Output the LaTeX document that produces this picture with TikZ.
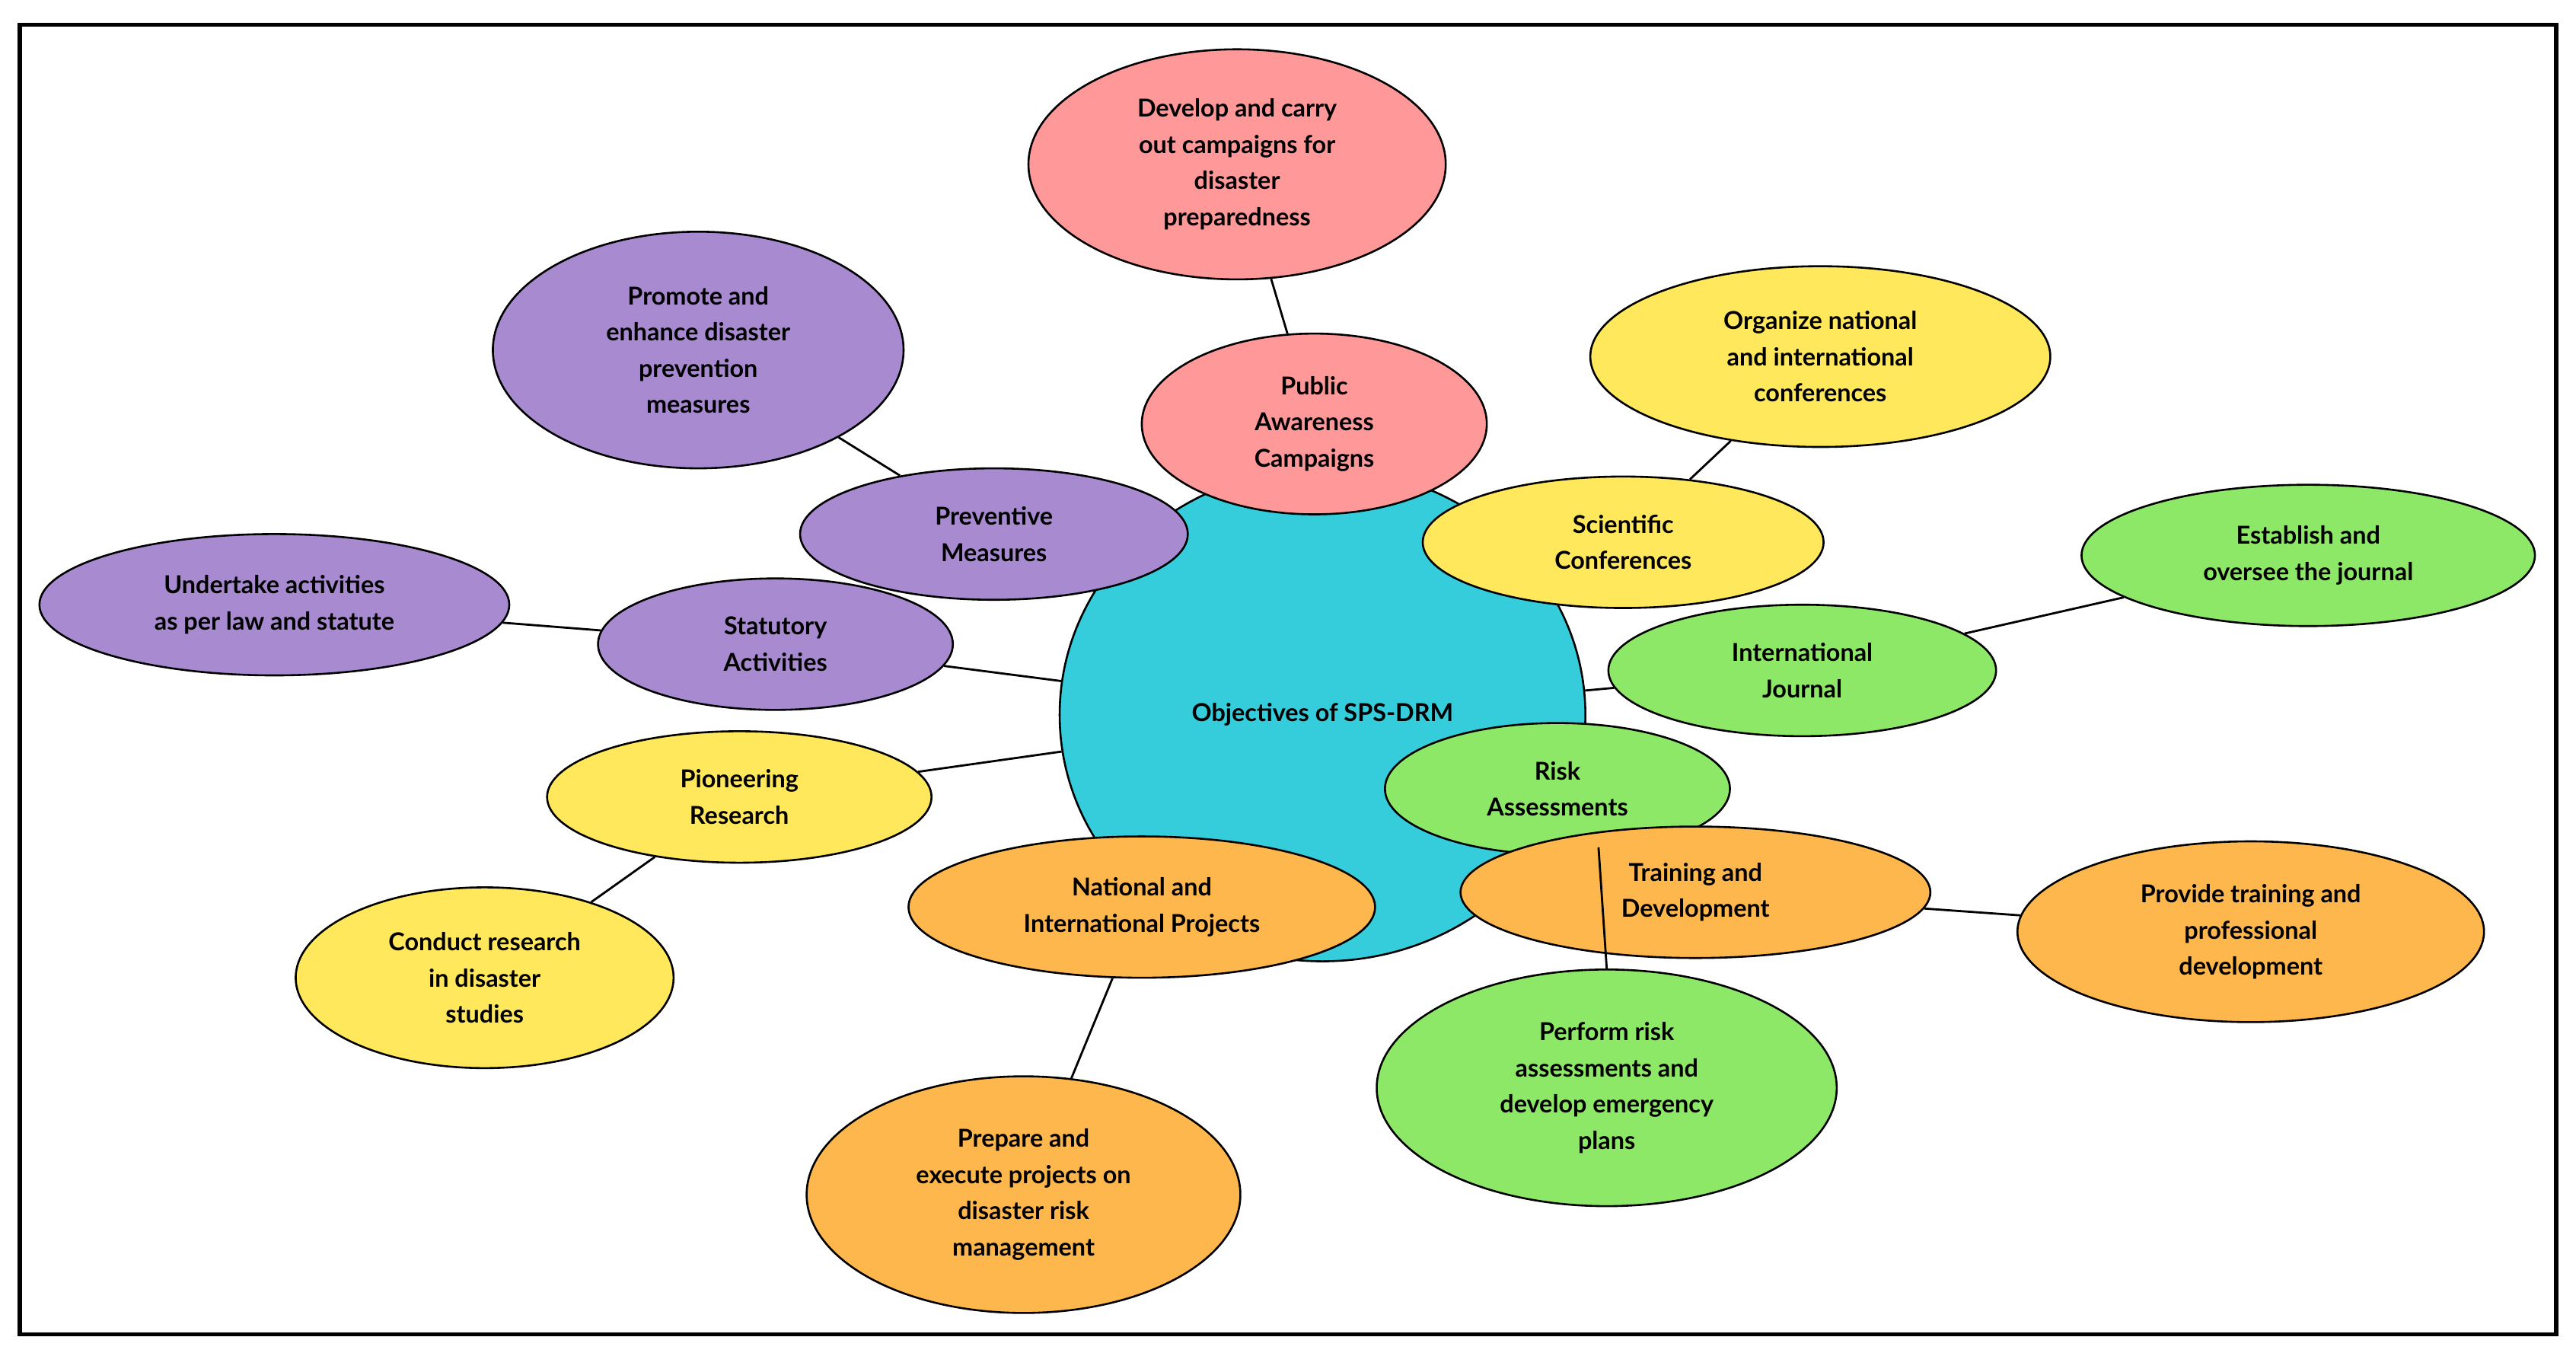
\documentclass[tikz,border=0pt]{standalone}
\usepackage{fontspec}
\setmainfont{Lato}
\usetikzlibrary{shapes.geometric}
\definecolor{cy}{HTML}{35CCDB}
\definecolor{pk}{HTML}{FF9999}
\definecolor{pu}{HTML}{A88AD0}
\definecolor{ye}{HTML}{FFE85C}
\definecolor{orr}{HTML}{FDB74D}
\definecolor{gr}{HTML}{8EE868}
\tikzset{
 b/.style n args={3}{ellipse,draw=black,line width=1.2pt,fill=#1,minimum width=#2pt,minimum height=#3pt,inner sep=0pt,align=center,font=\fontsize{15}{22}\selectfont\bfseries},
 c/.style={line width=1.3pt,black}
}
\begin{document}
\begin{tikzpicture}[x=1pt,y=-1pt]
\useasboundingbox (0,0) rectangle (1568,823);
\fill[white] (0,0) rectangle (1568,823);
\draw[line width=2.5pt] (12,15) rectangle (1556,812);
\node[b={cy}{320}{300}] (c) at (805,435) {Objectives of SPS-DRM};
\node[b={pk}{254}{140}] (dev) at (753,100) {Develop and carry\\out campaigns for\\disaster\\preparedness};
\node[b={pk}{210}{110}] (pub) at (800,258) {Public\\Awareness\\Campaigns};
\node[b={pu}{250}{144}] (pro) at (425,213) {Promote and\\enhance disaster\\prevention\\measures};
\node[b={pu}{236}{80}] (prev) at (605,325) {Preventive\\Measures};
\node[b={pu}{286}{86}] (und) at (167,368) {Undertake activities\\as per law and statute};
\node[b={pu}{216}{80}] (stat) at (472,392) {Statutory\\Activities};
\node[b={ye}{234}{80}] (pio) at (450,485) {Pioneering\\Research};
\node[b={ye}{230}{110}] (con) at (295,595) {Conduct research\\in disaster\\studies};
\node[b={orr}{264}{144}] (prep) at (623,727) {Prepare and\\execute projects on\\disaster risk\\management};
\node[b={orr}{284}{86}] (nat) at (695,552) {National and\\International Projects};
\node[b={ye}{280}{110}] (org) at (1108,217) {Organize national\\and international\\conferences};
\node[b={ye}{244}{80}] (sci) at (988,330) {Scientific\\Conferences};
\node[b={gr}{276}{86}] (est) at (1405,338) {Establish and\\oversee the journal};
\node[b={gr}{236}{80}] (int) at (1097,408) {International\\Journal};
\node[b={gr}{210}{80}] (risk) at (948,480) {Risk\\Assessments};
\node[b={gr}{280}{144}] (perf) at (978,662) {Perform risk\\assessments and\\develop emergency\\plans};
\node[b={orr}{286}{80}] (tr) at (1032,543) {Training and\\Development};
\node[b={orr}{284}{110}] (prov) at (1370,567) {Provide training and\\professional\\development};
\draw[c] (dev) -- (pub);
\draw[c] (pro) -- (prev);
\draw[c] (und) -- (stat);
\draw[c] (stat) -- (c);
\draw[c] (pio) -- (c);
\draw[c] (con) -- (pio);
\draw[c] (prep) -- (nat);
\draw[c] (org) -- (sci);
\draw[c] (est) -- (int);
\draw[c] (int) -- (c);
\draw[c] (risk.south) ++(25,-5) -- (perf.north);
\draw[c] (tr) -- (prov);
\end{tikzpicture}
\end{document}
